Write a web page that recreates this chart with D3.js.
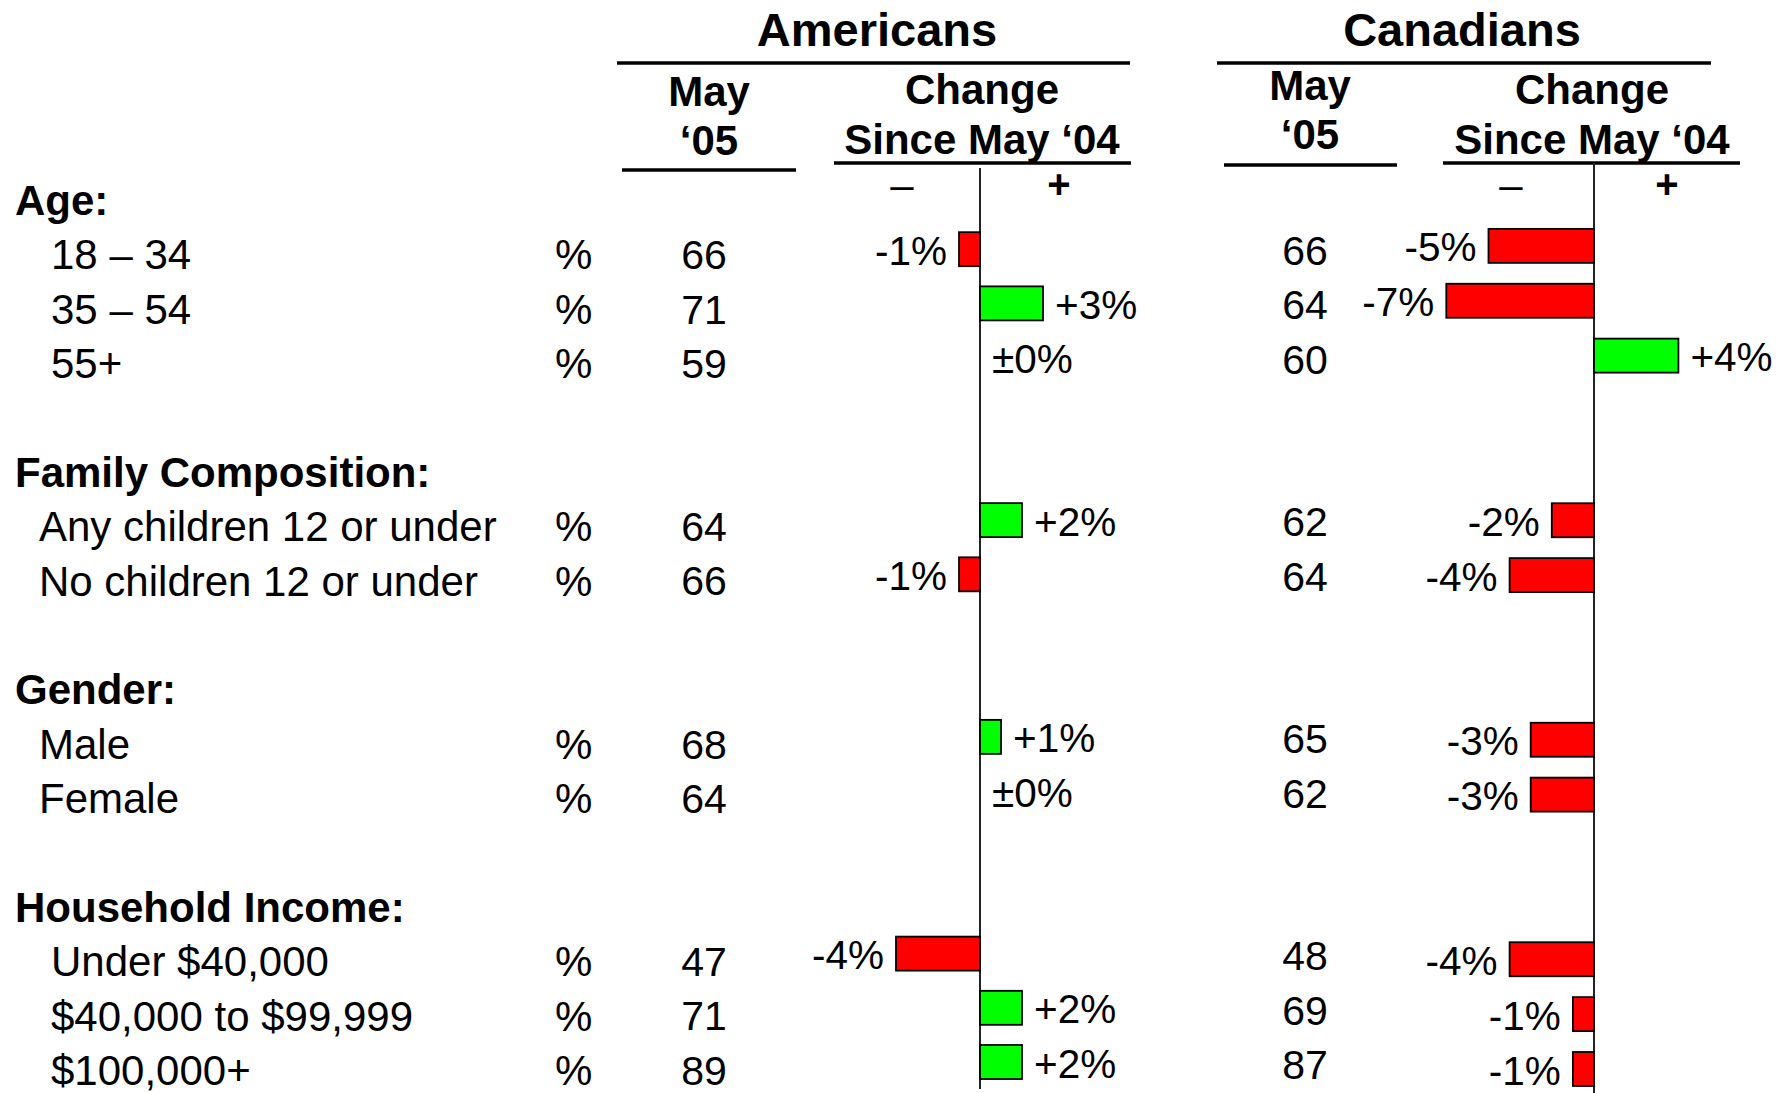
<!DOCTYPE html>
<html>
<head>
<meta charset="utf-8">
<script src="https://cdn.jsdelivr.net/npm/d3@7"></script>
<style>
  body { margin: 0; background: #fff; }
  text { font-family: "Liberation Sans", Arial, sans-serif; fill: #000; }
</style>
</head>
<body>
<div id="chart"></div>
<script>
var svgWidth = 1788;
var svgHeight = 1093;

// section headers and the rows that belong to each
var sections = ["Age:", "Family Composition:", "Gender:", "Household Income:"];
var rowLabels = ["18 \u2013 34", "35 \u2013 54", "55+",
  "Any children 12 or under", "No children 12 or under",
  "Male", "Female",
  "Under $40,000", "$40,000 to $99,999", "$100,000+"];
var rowSection = [0, 0, 0, 1, 1, 2, 2, 3, 3, 3];

// Americans
var usMay05 = [66, 71, 59, 64, 66, 68, 64, 47, 71, 89];
var usChange = [-1, 3, 0, 2, -1, 1, 0, -4, 2, 2];

// Canadians
var caMay05 = [66, 64, 60, 62, 64, 65, 62, 48, 69, 87];
var caChange = [-5, -7, 4, -2, -4, -3, -3, -4, -1, -1];

var svg = d3.select("#chart")
  .append("svg")
  .attr("width", svgWidth)
  .attr("height", svgHeight);

// build row ids: header, items, spacer between sections
var rowIds = [];
sections.forEach(function(s, si) {
  rowIds.push("h" + si);
  rowSection.forEach(function(sec, i) {
    if (sec === si) rowIds.push("r" + i);
  });
  if (si < sections.length - 1) rowIds.push("s" + si);
});

// text rows and bar rows sit on slightly different grids in the original
var yLab = d3.scalePoint().domain(rowIds).range([200, 1070]);
var yCAval = d3.scalePoint().domain(rowIds).range([196, 1064]);
var yUS = d3.scalePoint().domain(rowIds).range([195, 1062]);
var yCA = d3.scalePoint().domain(rowIds).range([191, 1069]);

var xUS = d3.scaleLinear().domain([0, 1]).range([980, 1001]);
var xCA = d3.scaleLinear().domain([0, 1]).range([1594, 1615.1]);

var barH = 34;
var indent = [51, 39, 39, 51];

function fmt(v) {
  if (v > 0) return "+" + v + "%";
  if (v < 0) return "-" + Math.abs(v) + "%";
  return "\u00b10%";
}

// ---- column headers ----
function header(title, cx, mayX, mayY, chX, chY, lines, minusX, plusX) {
  svg.append("text")
    .attr("x", cx).attr("y", 46)
    .attr("text-anchor", "middle")
    .style("font-size", "47px").style("font-weight", "bold")
    .text(title);
  svg.append("text")
    .attr("x", mayX).attr("y", mayY)
    .attr("text-anchor", "middle")
    .style("font-size", "42px").style("font-weight", "bold")
    .text("May");
  svg.append("text")
    .attr("x", mayX).attr("y", mayY + 49)
    .attr("text-anchor", "middle")
    .style("font-size", "42px").style("font-weight", "bold")
    .text("\u201805");
  svg.append("text")
    .attr("x", chX).attr("y", chY)
    .attr("text-anchor", "middle")
    .style("font-size", "42px").style("font-weight", "bold")
    .text("Change");
  svg.append("text")
    .attr("x", chX).attr("y", 154)
    .attr("text-anchor", "middle")
    .style("font-size", "42px").style("font-weight", "bold")
    .text("Since May \u201804");
  lines.forEach(function(l) {
    svg.append("line")
      .attr("x1", l[0]).attr("x2", l[1])
      .attr("y1", l[2]).attr("y2", l[2])
      .attr("stroke", "#000").attr("stroke-width", 3.5);
  });
  svg.append("text")
    .attr("x", minusX).attr("y", 184).attr("dy", "0.36em")
    .attr("text-anchor", "middle")
    .style("font-size", "42px")
    .text("\u2013");
  svg.append("text")
    .attr("x", plusX).attr("y", 184).attr("dy", "0.36em")
    .attr("text-anchor", "middle")
    .style("font-size", "40px").style("font-weight", "bold")
    .text("+");
}

header("Americans", 877, 709, 106, 982, 104,
  [[617, 1130, 63], [622, 796, 170], [834, 1131, 163]], 902, 1059);
header("Canadians", 1462, 1310, 100, 1592, 104,
  [[1217, 1711, 63], [1224, 1397, 165], [1443, 1740, 163]], 1511, 1667);

// ---- left side labels ----
svg.selectAll(".section")
  .data(sections)
  .enter()
  .append("text")
  .attr("class", "section")
  .attr("x", 15)
  .attr("y", (d, i) => yLab("h" + i))
  .attr("dy", "0.36em")
  .style("font-size", "42px").style("font-weight", "bold")
  .text(d => d);

svg.selectAll(".rowlabel")
  .data(rowLabels)
  .enter()
  .append("text")
  .attr("class", "rowlabel")
  .attr("x", (d, i) => indent[rowSection[i]])
  .attr("y", (d, i) => yLab("r" + i))
  .attr("dy", "0.36em")
  .style("font-size", "42px")
  .text(d => d);

svg.selectAll(".pct")
  .data(rowLabels)
  .enter()
  .append("text")
  .attr("class", "pct")
  .attr("x", 555)
  .attr("y", (d, i) => yLab("r" + i))
  .attr("dy", "0.36em")
  .style("font-size", "42px")
  .text("%");

// ---- one country block ----
function block(may, change, x, y, yVal, mayX, axisTop, axisBottom) {
  svg.append("line")
    .attr("x1", x(0)).attr("x2", x(0))
    .attr("y1", axisTop).attr("y2", axisBottom)
    .attr("stroke", "#222").attr("stroke-width", 2);

  svg.append("g").selectAll("text")
    .data(may)
    .enter()
    .append("text")
    .attr("x", mayX)
    .attr("y", (d, i) => yVal("r" + i))
    .attr("dy", "0.36em")
    .attr("text-anchor", "middle")
    .style("font-size", "41px")
    .text(d => d);

  svg.append("g").selectAll("rect")
    .data(change.map((v, i) => ({ v: v, i: i })).filter(d => d.v !== 0))
    .enter()
    .append("rect")
    .attr("x", d => Math.min(x(0), x(d.v)))
    .attr("width", d => Math.abs(x(d.v) - x(0)))
    .attr("y", d => y("r" + d.i) - barH / 2)
    .attr("height", barH)
    .attr("fill", d => d.v < 0 ? "#ff0000" : "#00ff00")
    .attr("stroke", "#000")
    .attr("stroke-width", 1.8);

  svg.append("g").selectAll("text")
    .data(change)
    .enter()
    .append("text")
    .attr("x", d => d < 0 ? x(d) - 12 : x(d) + 12)
    .attr("y", (d, i) => y("r" + i) + 1)
    .attr("dy", "0.36em")
    .attr("text-anchor", d => d < 0 ? "end" : "start")
    .style("font-size", "40.5px")
    .text(d => fmt(d));
}

block(usMay05, usChange, xUS, yUS, yLab, 704, 168, 1089);
block(caMay05, caChange, xCA, yCA, yCAval, 1305, 163, 1093);
</script>
</body>
</html>
